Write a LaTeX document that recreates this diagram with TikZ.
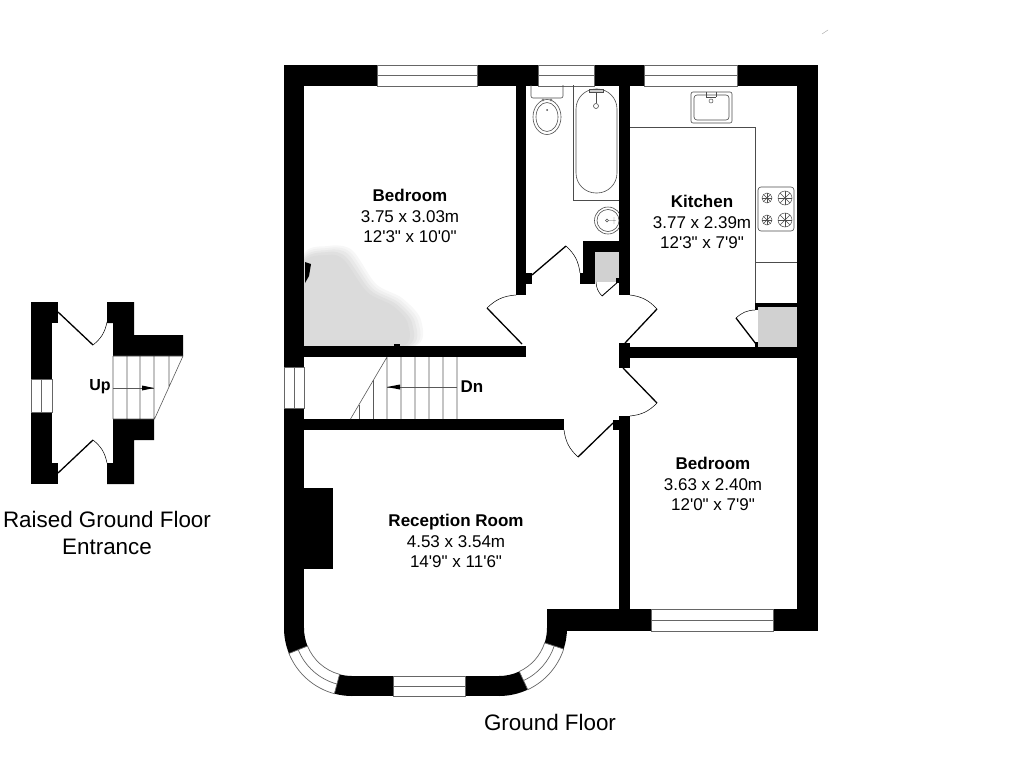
\documentclass[tikz,border=0pt]{standalone}
\usepackage{fontspec}
\newfontfamily\planfont{Liberation Sans}
\usetikzlibrary{positioning}
\tikzset{
    wallfill/.style={fill=black},
    winline/.style={draw=black!60,line width=.7pt},
    fixture/.style={draw=black!70,line width=.6pt},
    doorleaf/.style={draw=black,line width=1.3pt},
    doorswing/.style={draw=black,line width=.5pt,bend right=20},
    stairline/.style={draw=black!65,line width=.6pt},
    roomtext/.style={font=\planfont\fontsize{17}{20.5}\selectfont,align=center,inner sep=0pt},
    titletext/.style={font=\planfont\fontsize{22.4}{27}\selectfont,align=center,inner sep=0pt}
}
\newcommand{\hobring}[3]{
    \draw[fixture,line width=.5pt] (#1,#2) circle (#3);
    \draw[fixture,line width=.4pt] (#1-#3,#2) -- (#1+#3,#2) (#1,#2-#3) -- (#1,#2+#3);
    \draw[fixture,line width=.4pt] (#1-.7*#3,#2-.7*#3) -- (#1+.7*#3,#2+.7*#3) (#1-.7*#3,#2+.7*#3) -- (#1+.7*#3,#2-.7*#3);
}
\begin{document}
\begin{tikzpicture}[x=1pt,y=1pt,yscale=-1]
    \useasboundingbox (0,0) rectangle (1024,768);

    % smudge in the first bedroom
    \fill[black!3] plot[smooth cycle] coordinates {(302,347) (302,258) (328,246) (352,250) (376,284) (402,298) (421,320) (412,347)};
    \fill[black!6] plot[smooth cycle] coordinates {(302,347) (302,260) (328,248) (350,252) (374,286) (400,300) (418,321) (410,347)};
    \fill[black!9] plot[smooth cycle] coordinates {(302,347) (302,262) (328,250) (348,254) (372,288) (398,302) (415,322) (407,347)};
    \fill[black!12] plot[smooth cycle] coordinates {(302,347) (302,264) (328,252) (346,257) (370,290) (396,304) (412,323) (404,347)};
    \fill[black!14] plot[smooth cycle] coordinates {(302,347) (302,266) (328,255) (344,260) (367,292) (393,306) (408,324) (400,347)};
    \fill (305,262) -- (311,264) -- (309,276) -- (305,283) -- cycle;
    \fill (394,347) rectangle (400,344);
    \draw[black!40,line width=.4pt] (822,34) -- (828,30);

    % outer and inner walls
    \fill[wallfill] (284,65) rectangle (377,86);
    \fill[wallfill] (477,65) rectangle (538,86);
    \fill[wallfill] (594,65) rectangle (644,86);
    \fill[wallfill] (737,65) rectangle (818,86);
    \fill[wallfill] (284,65) rectangle (304,367);
    \fill[wallfill] (797,65) rectangle (818,631);
    \fill[wallfill] (773,609) rectangle (818,631);
    \fill[wallfill] (548,609) rectangle (651,631);
    \fill[wallfill] (619,416) rectangle (630,609);
    \fill[wallfill] (613,420) rectangle (619,430);
    \fill[wallfill] (619,343) rectangle (630,368);
    \fill[wallfill] (619,347) rectangle (797,358);
    \fill[wallfill] (304,346) rectangle (526,357);
    \fill[wallfill] (304,419) rectangle (564,430);
    \fill[wallfill] (284,408) rectangle (304,628);
    \fill[wallfill] (304,488) rectangle (333,569);
    \fill[wallfill] (516,85) rectangle (526,295);
    \fill[wallfill] (526,273) rectangle (532,284);
    \fill[wallfill] (619,85) rectangle (630,295);

    % cupboard by the bathroom
    \fill[black!18] (595,252) rectangle (619,282);
    \fill[wallfill] (583,241) rectangle (619,252);
    \fill[wallfill] (583,241) rectangle (595,284);
    \fill[wallfill] (580,273) rectangle (583,284);
    \fill[wallfill] (616,278) rectangle (619,283);

    % cupboard in the kitchen
    \fill[black!18] (758,307) rectangle (797,347);
    \fill[wallfill] (755,303) rectangle (797,307);
    \fill[wallfill] (755,303) rectangle (758,310);
    \fill[wallfill] (755,342) rectangle (758,347);

    % windows
    \draw[winline] (377,65) rectangle (477,86) (377,75) -- (477,75);
    \draw[winline] (538,65) rectangle (594,86) (538,75) -- (594,75);
    \draw[winline] (644,65) rectangle (737,86) (644,75) -- (737,75);
    \draw[winline] (651,609) rectangle (773,631) (651,620) -- (773,620);
    \draw[winline] (284,367) rectangle (304,408) (294,367) -- (294,408);

    % bay at the bottom of the reception room
    \begin{scope}[shift={(352,628)}]
        \fill[wallfill] (180:48) arc[start angle=180,end angle=158,radius=48] -- (158:68) arc[start angle=158,end angle=180,radius=68] -- cycle;
        \fill[wallfill] (105:48) arc[start angle=105,end angle=90,radius=48] -- (90:68) arc[start angle=90,end angle=105,radius=68] -- cycle;
        \draw[winline] (158:48) arc[start angle=158,end angle=105,radius=48] -- (105:68) arc[start angle=105,end angle=158,radius=68] -- cycle;
        \draw[winline] (158:58) arc[start angle=158,end angle=105,radius=58];
    \end{scope}
    \begin{scope}[shift={(499,628)}]
        \fill[wallfill] (90:48) arc[start angle=90,end angle=65,radius=48] -- (65:68) arc[start angle=65,end angle=90,radius=68] -- cycle;
        \fill[wallfill] (18:48) arc[start angle=18,end angle=0,radius=48] -- (0:68) arc[start angle=0,end angle=18,radius=68] -- cycle;
        \draw[winline] (65:48) arc[start angle=65,end angle=18,radius=48] -- (18:68) arc[start angle=18,end angle=65,radius=68] -- cycle;
        \draw[winline] (65:58) arc[start angle=65,end angle=18,radius=58];
    \end{scope}
    \fill[wallfill] (352,676) rectangle (393,696);
    \fill[wallfill] (465,676) rectangle (499,696);
    \fill[wallfill] (547,609) rectangle (567,630);
    \draw[winline] (393,676) rectangle (465,696) (393,686) -- (465,686);

    % doors
    \draw[doorleaf] (522,344) -- (487,308);
    \draw[doorswing] (487,308) to (516,295);
    \draw[doorleaf] (532,275) -- (566,246);
    \draw[doorswing] (566,246) to (580,273);
    \draw[doorleaf] (625,343) -- (657,309);
    \draw[doorswing] (630,295) to (657,309);
    \draw[doorleaf] (623,368) -- (657,403);
    \draw[doorswing] (657,403) to (630,416);
    \draw[doorleaf] (613,423) -- (578,457);
    \draw[doorswing] (578,457) to (564,430);
    \draw[doorleaf,line width=.9pt] (619,281) -- (602,296);
    \draw[doorswing] (602,296) to (596,282);
    \draw[doorleaf] (756,344) -- (736,318);
    \draw[doorswing] (736,318) to (755,310);

    % stairs down
    \draw[stairline] (387,357) -- (350.5,419) (387,357) -- (387,419) (401,357) -- (401,419) (415,357) -- (415,419) (429,357) -- (429,419) (443,357) -- (443,419) (457,357) -- (457,419);
    \draw[stairline] (373.5,380) -- (373.5,419) (359,404.5) -- (359,419);
    \draw[stairline] (457,387) -- (387,387);
    \fill (387,387) -- (400,384.5) -- (400,389.5) -- cycle;

    % bathroom
    \draw[fixture,rounded corners=2pt] (531,85) -- (531,98) -- (563,98) -- (563,85);
    \draw[fixture] (547,117) ellipse (14 and 17.5);
    \draw[fixture] (547,117) ellipse (11 and 14.5);
    \fill[black!70] (547,110) circle (1);
    \fill[white,draw=black!75,line width=.4pt] (543,100) circle (1.2) (551,100) circle (1.2);
    \draw[fixture] (573,85) -- (573,200) -- (619,200);
    \draw[fixture,rounded corners=20pt] (576,89) rectangle (617,193);
    \draw[fixture,fill=black!20] (589,89) rectangle (603,92);
    \draw[fixture] (596,92) -- (596,103);
    \draw[fixture] (596,106) circle (2.5);
    \begin{scope}
        \clip (590,205) rectangle (619,236);
        \draw[fixture] (608,220.5) circle (13.5);
        \draw[fixture] (608,220.5) circle (11);
    \end{scope}
    \draw[fixture,line width=.4pt] (607,220.5) circle (1.5) (609,220.5) -- (616,220.5) (614,217) -- (614,224);

    % kitchen units
    \draw[fixture] (630,127) -- (755,127) -- (755,303);
    \draw[fixture] (755,262) -- (797,262);
    \draw[fixture,rounded corners=2pt] (691,92) rectangle (732,123);
    \draw[fixture,rounded corners=3pt] (694,95) rectangle (729,120);
    \draw[fixture,line width=.5pt] (706,92) -- (706,97) (716,92) -- (716,97) (706,97) -- (716,97);
    \draw[fixture,line width=.5pt] (711,101) circle (2);
    \draw[fixture,rounded corners=3pt] (758,187) rectangle (794,231);
    \hobring{767}{198}{5}
    \hobring{785}{198}{7}
    \hobring{767}{220}{5}
    \hobring{785}{220}{7}

    % entrance plan
    \fill[wallfill] (31,302) rectangle (52,379);
    \fill[wallfill] (31,302) rectangle (58,323);
    \fill[wallfill] (31,412) rectangle (52,484);
    \fill[wallfill] (31,463) rectangle (58,484);
    \fill[wallfill] (107,302) -- (134,302) -- (134,335) -- (183,335) -- (183,356) -- (113,356) -- (113,323) -- (107,323) -- cycle;
    \fill[wallfill] (113,419) -- (154,419) -- (154,440) -- (134,440) -- (134,484) -- (107,484) -- (107,463) -- (113,463) -- cycle;
    \draw[winline] (31,379) rectangle (52,412) (41.5,379) -- (41.5,412);
    \draw[doorleaf] (58,312) -- (93,345);
    \draw[doorswing] (107,322) to (93,345);
    \draw[doorleaf] (58,473) -- (93,440);
    \draw[doorswing] (93,440) to (107,463);
    \draw[stairline] (113,356) -- (113,419) (127,356) -- (127,419) (140,356) -- (140,419) (154,356) -- (154,419) (169,356) -- (169,387) (113,356) -- (183,356) (113,419) -- (154.5,419) (183,356) -- (154.5,419);
    \draw[stairline] (113,388) -- (154,388);
    \fill (154,388) -- (142,385.5) -- (142,390.5) -- cycle;

    % room labels
    \node (bedroomone) [roomtext] at (410,216) {{\bfseries Bedroom}\\3.75 x 3.03m\\12'3" x 10'0"};
    \node (kitchen) [roomtext] at (702,222) {{\bfseries Kitchen}\\3.77 x 2.39m\\12'3" x 7'9"};
    \node (bedroomtwo) [roomtext] at (713,484) {{\bfseries Bedroom}\\3.63 x 2.40m\\12'0" x 7'9"};
    \node (reception) [roomtext] at (456,541) {{\bfseries Reception Room}\\4.53 x 3.54m\\14'9" x 11'6"};
    \node (dn) [roomtext] at (472,387) {\bfseries Dn};
    \node (up) [roomtext,font=\planfont\fontsize{16}{20}\selectfont] at (100,387) {\bfseries Up};
    \node (groundfloor) [titletext] at (550,722) {Ground Floor};
    \node (entrance) [titletext] at (107,533) {Raised Ground Floor\\Entrance};
\end{tikzpicture}
\end{document}
